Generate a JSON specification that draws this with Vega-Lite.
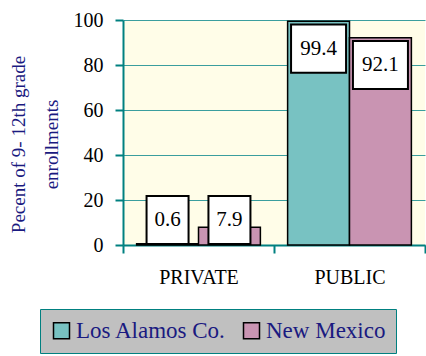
{
  "$schema": "https://vega.github.io/schema/vega-lite/v6.json",
  "width": 302,
  "height": 225,
  "autosize": "none",
  "padding": {"left": 123, "top": 20, "right": 1, "bottom": 111},
  "background": "white",
  "data": {
    "values": [
      {"type": "PRIVATE", "area": "Los Alamos Co.", "value": 0.6},
      {"type": "PRIVATE", "area": "New Mexico", "value": 7.9},
      {"type": "PUBLIC", "area": "Los Alamos Co.", "value": 99.4},
      {"type": "PUBLIC", "area": "New Mexico", "value": 92.1}
    ]
  },
  "transform": [
    {"calculate": "max(datum.value, 23.2) - 1.4", "as": "boxTop"},
    {"calculate": "datum.boxTop - 21.4", "as": "boxBot"},
    {"calculate": "datum.boxTop - 10.7", "as": "boxMid"}
  ],
  "encoding": {
    "x": {
      "field": "type",
      "type": "nominal",
      "sort": ["PRIVATE", "PUBLIC"],
      "scale": {"paddingInner": 0, "paddingOuter": 0},
      "axis": {
        "title": null,
        "labelAngle": 0,
        "labelFont": "Times New Roman, Liberation Serif, serif",
        "labelFontSize": 20,
        "labelColor": "black",
        "labelPadding": 14,
        "tickBand": "extent",
        "tickSize": 8,
        "tickColor": "#008080",
        "tickWidth": 2,
        "domainColor": "#008080",
        "domainWidth": 2,
        "grid": false
      }
    },
    "xOffset": {
      "field": "area",
      "type": "nominal",
      "scale": {"paddingInner": 0, "paddingOuter": 0.22}
    }
  },
  "layer": [
    {
      "mark": {"type": "bar", "stroke": "black", "strokeWidth": 1.5},
      "encoding": {
        "y": {
          "field": "value",
          "type": "quantitative",
          "scale": {"domain": [0, 100], "nice": false},
          "axis": {
            "values": [0, 20, 40, 60, 80, 100],
            "title": ["Pecent of 9- 12th grade", "enrollments"],
            "titleFont": "Times New Roman, Liberation Serif, serif",
            "titleFontSize": 19,
            "titleFontWeight": "normal",
            "titleColor": "#1a1a80",
            "titleLineHeight": 33,
            "titleAngle": -90,
            "titleAlign": "center",
            "titleBaseline": "top",
            "titleX": -114,
            "titleY": 124,
            "labelFont": "Times New Roman, Liberation Serif, serif",
            "labelFontSize": 20,
            "labelColor": "black",
            "labelPadding": 12,
            "tickSize": 8,
            "tickColor": "#008080",
            "tickWidth": 2,
            "domainColor": "#008080",
            "domainWidth": 2,
            "grid": true,
            "gridColor": "#3a9e9e",
            "gridWidth": 1.2
          }
        },
        "color": {
          "field": "area",
          "type": "nominal",
          "scale": {"domain": ["Los Alamos Co.", "New Mexico"], "range": ["#78c2c2", "#c994b2"]},
          "legend": {
            "title": null,
            "orient": "none",
            "direction": "horizontal",
            "legendX": -83,
            "legendY": 289,
            "fillColor": "#c0c0c0",
            "strokeColor": "#008080",
            "padding": 10,
            "symbolType": "square",
            "symbolSize": 256,
            "symbolStrokeColor": "black",
            "symbolStrokeWidth": 1.5,
            "symbolOpacity": 1,
            "labelFont": "Times New Roman, Liberation Serif, serif",
            "labelFontSize": 23,
            "labelColor": "#1a1a80",
            "labelOffset": 3,
            "columnPadding": 13,
            "labelLimit": 300
          }
        }
      }
    },
    {
      "transform": [{"filter": "datum.type == 'PRIVATE'"}],
      "mark": {"type": "bar", "fill": "white", "stroke": "black", "strokeWidth": 2, "width": 42},
      "encoding": {
        "y": {"field": "boxTop", "type": "quantitative"},
        "y2": {"field": "boxBot"}
      }
    },
    {
      "transform": [{"filter": "datum.type == 'PUBLIC'"}],
      "mark": {"type": "bar", "fill": "white", "stroke": "black", "strokeWidth": 2, "width": 55},
      "encoding": {
        "y": {"field": "boxTop", "type": "quantitative"},
        "y2": {"field": "boxBot"}
      }
    },
    {
      "mark": {"type": "text", "font": "Times New Roman, Liberation Serif, serif", "fontSize": 21, "color": "black", "baseline": "middle", "align": "center"},
      "encoding": {
        "y": {"field": "boxMid", "type": "quantitative"},
        "text": {"field": "value", "type": "quantitative", "format": ".1f"}
      }
    }
  ],
  "config": {
    "view": {"fill": "#fffde8", "stroke": null}
  }
}
